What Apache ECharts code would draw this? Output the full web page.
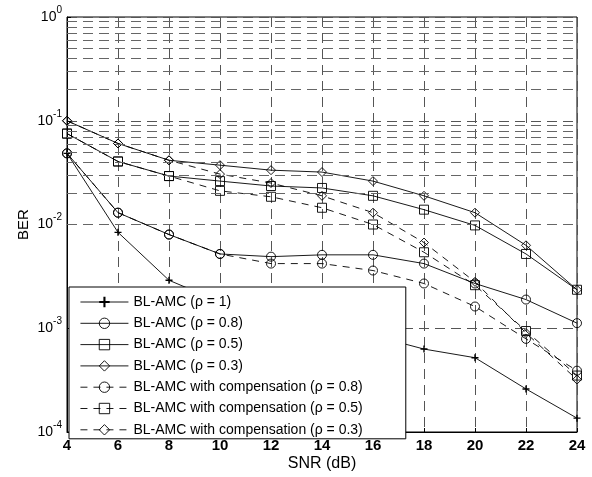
<!DOCTYPE html>
<html>
<head>
<meta charset="utf-8">
<title>BER vs SNR</title>
<script src="https://cdn.jsdelivr.net/npm/echarts@6/dist/echarts.min.js"></script>
<style>
  html, body { margin: 0; padding: 0; background: #fff; }
  #chart { width: 592px; height: 477px; }
</style>
</head>
<body>
<div id="chart"></div>
<script>
// SNR (dB) sample points
const snr = [4, 6, 8, 10, 12, 14, 16, 18, 20, 22, 24]

// BER values
const berRho1 = [0.0485, 0.0084, 0.0029, 0.0018, 0.0013, 0.001, 0.00085, 0.00063, 0.00052, 0.00026, 0.000136]
const berRho08 = [0.0485, 0.013, 0.008, 0.0052, 0.0049, 0.0051, 0.0051, 0.0042, 0.0027, 0.00189, 0.00112]
const berRho05 = [0.0752, 0.0405, 0.0293, 0.0262, 0.0235, 0.0225, 0.0189, 0.0139, 0.0098, 0.0052, 0.00235]
const berRho03 = [0.1, 0.0604, 0.0416, 0.0373, 0.0334, 0.032, 0.0262, 0.0189, 0.013, 0.0063, 0.00235]
const compRho08 = [0.0485, 0.013, 0.008, 0.0052, 0.0042, 0.0042, 0.0036, 0.0027, 0.00162, 0.00079, 0.00039]
const compRho05 = [0.0752, 0.0405, 0.0293, 0.0211, 0.0185, 0.0145, 0.01, 0.0054, 0.0026, 0.00094, 0.00035]
const compRho03 = [0.1, 0.0604, 0.0416, 0.0306, 0.0251, 0.0189, 0.013, 0.0067, 0.0028, 0.0009, 0.00032]

const seriesNames = [
  'BL-AMC (ρ = 1)',
  'BL-AMC (ρ = 0.8)',
  'BL-AMC (ρ = 0.5)',
  'BL-AMC (ρ = 0.3)',
  'BL-AMC with compensation (ρ = 0.8)',
  'BL-AMC with compensation (ρ = 0.5)',
  'BL-AMC with compensation (ρ = 0.3)'
]

// minor grid at 2..9 x each decade (log axis)
const minorGrid = []
for (let e = -4; e < 0; e++) {
  for (let k = 2; k <= 9; k++) minorGrid.push(k * Math.pow(10, e))
}

const FONT = 'Liberation Sans, Arial, Helvetica, sans-serif'
const plusSymbol = 'path://M4,0H6V4H10V6H6V10H4V6H0V4H4Z'

const makeSeries = (name, values, symbol, dashed) => ({
  name,
  type: 'line',
  data: snr.map((x, i) => [x, values[i]]),
  symbol,
  symbolSize: symbol === plusSymbol ? 7 : 9,
  showSymbol: true,
  animation: false,
  lineStyle: { color: '#000', width: 0.9, type: dashed ? [7, 6] : 'solid' },
  itemStyle: symbol === plusSymbol
    ? { color: '#000', borderWidth: 0 }
    : { color: 'rgba(0,0,0,0)', borderColor: '#000', borderWidth: 0.9 }
})

const chart = echarts.init(document.getElementById('chart'), null, { renderer: 'canvas' })

chart.setOption({
  backgroundColor: '#fff',
  animation: false,
  textStyle: { fontFamily: FONT, color: '#000' },
  grid: {
    left: 67, right: 15, top: 17, bottom: 40,
    show: true, borderColor: '#000', borderWidth: 1
  },
  legend: {
    data: seriesNames,
    orient: 'vertical',
    left: 69,
    top: 287,
    itemWidth: 48,
    itemHeight: 13,
    itemGap: 7.3,
    padding: [8, 43, 2, 11],
    backgroundColor: '#fff',
    borderColor: '#000',
    borderWidth: 1,
    borderRadius: 0,
    lineStyle: { width: 0.9 },
    itemStyle: { borderWidth: 0.9 },
    textStyle: { fontFamily: FONT, fontSize: 14, color: '#000' }
  },
  xAxis: {
    type: 'value',
    min: 4,
    max: 24,
    interval: 2,
    name: 'SNR (dB)',
    nameLocation: 'middle',
    nameGap: 24,
    nameMoveOverlap: false,
    nameTextStyle: { fontFamily: FONT, fontSize: 16, color: '#000' },
    axisLine: { show: true, lineStyle: { color: '#000', width: 1 } },
    axisTick: { show: true, inside: true, length: 4, lineStyle: { color: '#000' } },
    axisLabel: { margin: 6, fontFamily: FONT, fontSize: 15, fontWeight: 'bold', color: '#000' },
    splitLine: { show: true, lineStyle: { color: '#555', width: 1, type: [10, 6] } }
  },
  yAxis: {
    type: 'log',
    logBase: 10,
    min: 1e-4,
    max: 1,
    name: 'BER',
    nameLocation: 'middle',
    nameRotate: 90,
    nameGap: 36,
    nameMoveOverlap: false,
    nameTextStyle: { fontFamily: FONT, fontSize: 15, color: '#000' },
    axisLine: { show: true, lineStyle: { color: '#000', width: 1 } },
    axisTick: { show: true, inside: true, length: 4, lineStyle: { color: '#000' } },
    axisLabel: {
      margin: 5,
      formatter(value) {
        const e = Math.round(Math.log10(value))
        return '{b|10}{s|' + e + '}'
      },
      rich: {
        b: { fontFamily: FONT, fontSize: 14, lineHeight: 24, color: '#000' },
        s: { fontFamily: FONT, fontSize: 10, lineHeight: 10, verticalAlign: 'top', color: '#000' }
      }
    },
    splitLine: { show: true, lineStyle: { color: '#555', width: 1, type: [10, 6] } }
  },
  series: [
    {
      name: 'minor-grid',
      type: 'line',
      data: [],
      silent: true,
      z: 1,
      markLine: {
        silent: true,
        symbol: 'none',
        animation: false,
        label: { show: false },
        lineStyle: { color: '#666', width: 1, type: [10, 6] },
        data: minorGrid.map((v) => ({ yAxis: v }))
      }
    },
    makeSeries(seriesNames[0], berRho1, plusSymbol, false),
    makeSeries(seriesNames[1], berRho08, 'circle', false),
    makeSeries(seriesNames[2], berRho05, 'rect', false),
    makeSeries(seriesNames[3], berRho03, 'diamond', false),
    makeSeries(seriesNames[4], compRho08, 'circle', true),
    makeSeries(seriesNames[5], compRho05, 'rect', true),
    makeSeries(seriesNames[6], compRho03, 'diamond', true)
  ]
})
</script>
</body>
</html>
